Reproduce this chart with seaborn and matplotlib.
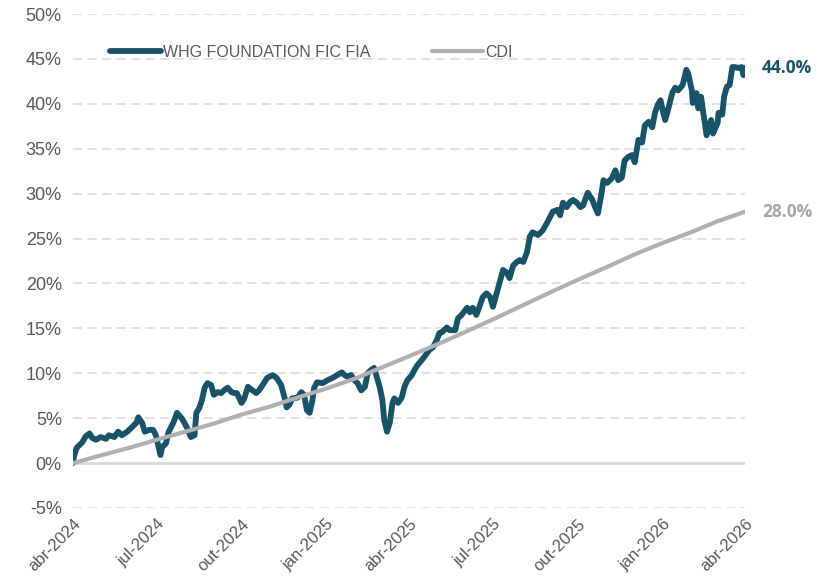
import matplotlib
matplotlib.use("Agg")
import matplotlib.pyplot as plt
from matplotlib.lines import Line2D
import seaborn as sns
import pandas as pd

# ---------------- data ----------------
START = "2024-04-01"
WHG_NAME = "WHG FOUNDATION FIC FIA"
CDI_NAME = "CDI"

# WHG: days since START and cumulative return (%)
whg_days = [0, 1, 4, 10, 14, 18, 21, 25, 30, 36, 39, 45, 49, 53, 59, 64, 69, 71, 75, 78,
            83, 87, 90, 95, 97, 101, 104, 109, 113, 118, 121, 124, 128, 132, 134, 137, 140,
            143, 146, 150, 153, 157, 161, 164, 168, 172, 175, 178, 183, 186, 190, 195, 199,
            202, 206, 211, 217, 221, 226, 230, 232, 235, 238, 244, 248, 251, 254, 257, 260,
            262, 265, 271, 276, 282, 287,
            292, 295, 298, 302, 306, 309, 313, 317, 320, 324, 327, 331, 333, 336, 338, 341,
            344, 347, 349, 353, 357, 360, 363, 368, 371, 374, 379, 384, 387, 391, 395, 398,
            401, 406, 409,
            415, 418, 422, 428, 431, 434, 438, 442, 445, 449, 453, 456, 460, 463, 467, 471,
            474, 478, 482, 485, 489, 493, 496, 499, 505, 510, 515, 518, 521, 526, 529, 532,
            536, 540, 543, 547, 551, 554,
            556, 559, 564, 567, 570, 574, 576, 580, 585, 589, 592, 596, 599, 603, 607, 610,
            614, 618, 621, 625, 629, 632, 635, 638, 641, 643, 646, 651, 654, 657, 662, 666,
            668, 672, 673, 677, 679, 682, 684, 688, 690, 693, 695, 700, 701, 705, 707, 710,
            713, 716, 719, 722, 726, 728, 730]
whg_values = [0.0, 0.7, 1.7, 2.3, 3.0, 3.3, 2.8, 2.6, 2.9, 2.7, 3.1, 2.9, 3.5, 3.1, 3.5, 4.0,
              4.5, 5.1, 4.5, 3.5, 3.7, 3.7, 3.1, 0.9, 1.8, 2.2, 3.5, 4.5, 5.6, 5.0, 4.5, 3.9,
              2.9, 3.1, 5.6, 6.1, 7.0,
              8.4, 8.9, 8.7, 7.6, 7.9, 7.8, 8.1, 8.4, 7.9, 7.8, 7.8, 6.7, 7.2, 8.5, 8.1, 7.8,
              8.1, 8.7, 9.5, 9.8, 9.5, 8.7, 7.2, 6.2, 6.5, 7.2, 7.3, 7.9, 7.6, 5.9, 5.6, 7.0,
              8.4, 9.0, 8.9, 9.2, 9.5, 9.8,
              10.1, 9.8, 9.6, 9.8, 9.2, 8.9, 8.1, 8.5, 10.0, 10.4, 10.6, 9.2, 8.5, 7.0, 4.8,
              3.5, 4.5, 6.7, 7.2, 6.7, 7.3, 8.5, 9.2, 9.8, 10.4, 10.9, 11.5, 12.2, 12.6, 12.9,
              13.7, 14.5, 14.6, 15.1, 14.8,
              14.8, 16.1, 16.5, 17.3, 16.8, 17.3, 16.5, 17.6, 18.5, 18.9, 18.5, 17.4, 18.9,
              20.0, 21.5, 21.2, 20.6, 22.0, 22.4, 22.6, 22.4, 23.5, 25.2, 25.7, 25.4, 25.9,
              26.8, 27.4, 28.0, 28.2, 27.6, 29.0, 28.5, 29.1, 29.3, 29.0, 28.5, 28.7,
              29.3, 30.1, 29.3, 28.5, 27.8, 30.1, 31.5, 31.2, 31.7, 32.6, 31.5, 31.8, 33.7,
              34.1, 34.3, 33.5, 36.0, 35.7, 37.6, 38.0, 37.4, 39.0, 39.9, 40.4, 39.0, 38.2,
              39.3, 41.3, 41.8, 41.5, 42.1, 43.8, 43.4, 41.5, 40.1, 41.2, 39.5, 40.8, 39.3,
              36.5, 37.4, 38.2, 36.7, 37.9, 39.0, 38.8, 40.8, 41.9, 42.1, 44.1, 44.1, 44.0,
              44.1, 43.2, 44.0]

# CDI: monthly cumulative return (%)
cdi_dates = ["2024-04-01", "2024-05-01", "2024-06-01", "2024-07-01", "2024-08-01",
             "2024-09-01", "2024-10-01", "2024-11-01", "2024-12-01", "2025-01-01",
             "2025-02-01", "2025-03-01", "2025-04-01", "2025-05-01", "2025-06-01",
             "2025-07-01", "2025-08-01", "2025-09-01", "2025-10-01", "2025-11-01",
             "2025-12-01", "2026-01-01", "2026-02-01", "2026-03-01", "2026-04-01"]
cdi_values = [0.0, 0.85, 1.7, 2.6, 3.5, 4.4, 5.4, 6.3, 7.3, 8.3, 9.4, 10.6, 11.9, 13.2,
              14.6, 16.0, 17.5, 19.0, 20.4, 21.8, 23.2, 24.5, 25.7, 26.9, 28.0]

x_tick_dates = ["2024-04-01", "2024-07-01", "2024-10-01", "2025-01-01", "2025-04-01",
                "2025-07-01", "2025-10-01", "2026-01-01", "2026-04-01"]
x_tick_labels = ["abr-2024", "jul-2024", "out-2024", "jan-2025", "abr-2025",
                 "jul-2025", "out-2025", "jan-2026", "abr-2026"]
y_ticks = [-5, 0, 5, 10, 15, 20, 25, 30, 35, 40, 45, 50]

# ---------------- style ----------------
TEAL = "#18536A"
GRAY = "#B0B0B0"
TXT = "#595959"

sns.set_theme(style="white")
plt.rcParams["font.family"] = ["Liberation Sans", "DejaVu Sans"]

whg_df = pd.DataFrame({
    "date": pd.Timestamp(START) + pd.to_timedelta(whg_days, unit="D"),
    "value": whg_values,
})
cdi_df = pd.DataFrame({"date": pd.to_datetime(cdi_dates), "value": cdi_values})

fig = plt.figure(figsize=(8.29, 5.77), dpi=100)
ax = fig.add_axes([0.088, 0.1196, 0.811, 0.856])

sns.lineplot(data=whg_df, x="date", y="value", ax=ax, color=TEAL, linewidth=4.2,
             solid_capstyle="round", solid_joinstyle="round", zorder=3)
sns.lineplot(data=cdi_df, x="date", y="value", ax=ax, color=GRAY, linewidth=3.0,
             solid_capstyle="round", solid_joinstyle="round", zorder=4)

ax.set_xlim(pd.Timestamp(x_tick_dates[0]), pd.Timestamp(x_tick_dates[-1]))
ax.set_ylim(-5, 50)

# grid
for v in y_ticks:
    if v == 0:
        ax.axhline(v, color="#D9D9D9", linewidth=2.0, zorder=1)
    else:
        ax.axhline(v, color="#D9D9D9", linewidth=1.1, linestyle=(0, (6, 3.5)), zorder=1)

for s in ax.spines.values():
    s.set_visible(False)

ax.set_yticks(y_ticks)
ax.set_yticklabels([f"{v}%" for v in y_ticks])
ax.set_xticks(pd.to_datetime(x_tick_dates))
ax.set_xticklabels(x_tick_labels, rotation=45, ha="right", va="top",
                   rotation_mode="anchor")
ax.tick_params(axis="both", length=0, labelcolor=TXT)
ax.tick_params(axis="y", pad=8, labelsize=13)
ax.tick_params(axis="x", pad=6, labelsize=12)
ax.set_xlabel("")
ax.set_ylabel("")

# legend
handles = [Line2D([0], [0], color=TEAL, linewidth=4.2, solid_capstyle="round"),
           Line2D([0], [0], color=GRAY, linewidth=3.0, solid_capstyle="round")]
leg = ax.legend(handles, [WHG_NAME, CDI_NAME], loc="center left",
                bbox_to_anchor=(0.055, 0.923), ncol=2, frameon=False, fontsize=11.5,
                handlelength=3.2, handletextpad=0.15, columnspacing=3.8,
                borderpad=0, borderaxespad=0)
for t in leg.get_texts():
    t.set_color(TXT)

# end labels
end_date = pd.Timestamp(x_tick_dates[-1])
ax.annotate(f"{whg_values[-1]:.1f}%", xy=(end_date, whg_values[-1]), xytext=(12, 0),
            textcoords="offset points", ha="left", va="center", fontsize=12.5,
            fontweight="bold", color=TEAL, family=["Open Sans", "DejaVu Sans"],
            annotation_clip=False)
ax.annotate(f"{cdi_values[-1]:.1f}%", xy=(end_date, cdi_values[-1]), xytext=(12, 0),
            textcoords="offset points", ha="left", va="center", fontsize=12.5,
            fontweight="bold", color="#A6A6A6", family=["Open Sans", "DejaVu Sans"],
            annotation_clip=False)

fig.savefig("out.png", dpi=100)
